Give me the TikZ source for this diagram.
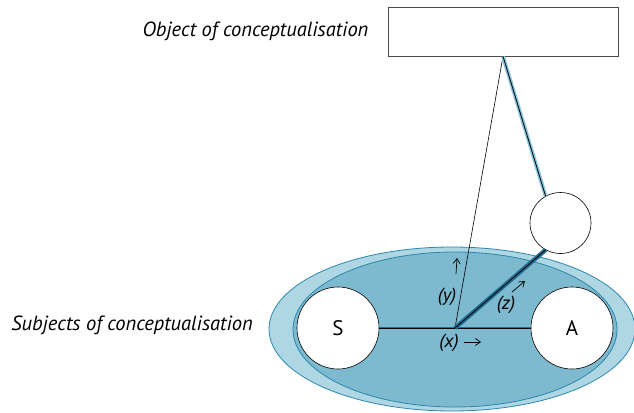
\documentclass[tikz,border=0pt]{standalone}
\usepackage{fontspec}
\setmainfont{PT Sans}
\usetikzlibrary{arrows.meta,positioning,shapes.geometric}
\definecolor{concept-pale}{HTML}{AED6E3}
\definecolor{concept-mid}{HTML}{7DB9CF}
\definecolor{concept-edge}{HTML}{2B89AE}
\definecolor{concept-dark}{HTML}{1F6F95}
\definecolor{concept-light}{HTML}{86C3DC}
\tikzset{
  concept-field/.style={ellipse, draw=concept-edge, line width=0.8pt, inner sep=0pt},
  concept-subject/.style={circle, draw=black, fill=white, line width=0.6pt, minimum size=82pt,
    inner sep=0pt, font=\fontsize{21}{24}\selectfont},
  concept-caption/.style={font=\fontsize{20.5}{24}\selectfont\itshape, inner sep=0pt},
  concept-var/.style={font=\fontsize{19}{22}\selectfont\itshape, inner sep=0pt},
  concept-tick/.style={-{Straight Barb[length=5pt,width=7pt]}, line width=0.7pt},
  concept-link/.style={double=black, double distance=0.8pt, line width=1.3pt}
}
\begin{document}
\begin{tikzpicture}[x=1pt, y=-1pt]
  \useasboundingbox (0,0) rectangle (634,412);

  % Shared field of the subjects
  \node[concept-field, fill=concept-pale, minimum width=366pt, minimum height=164pt] (outer) at (452,329) {};
  \node[concept-field, fill=concept-mid, minimum width=324pt, minimum height=155pt] (inner) at (455,329.5) {};

  % Object box
  \node[draw=black!70, fill=white, line width=0.8pt, minimum width=230pt, minimum height=49pt] (object) at (503,31.5) {};
  \node[concept-caption, left=19pt of object] (objcap) {Object of conceptualisation};

  % Subjects S and A, third circle
  \node[concept-subject] (S) at (338,328) {S};
  \node[concept-subject] (A) at (572,328) {A};
  \node[circle, draw=black, fill=white, line width=0.6pt, minimum size=61pt, inner sep=0pt] (third) at (560.5,223) {};
  \node[concept-caption, anchor=east] (subjcap) at (253,325) {Subjects of conceptualisation};

  % Origin of the three relations
  \coordinate (origin) at (455,328);

  % Relations
  \draw[concept-link, draw=concept-dark, line width=0.7pt] (S) -- (A);
  \draw[line width=0.6pt] (object.south) -- (origin);
  \draw[concept-link, draw=concept-light, line width=1.5pt] (object.south) -- (third.119);
  \draw[concept-link, draw=concept-dark, line width=1.8pt] (origin) -- (third.241);

  % Labels (x), (y), (z)
  \node[concept-var] (xlab) at (449,343) {(x)};
  \coordinate (xtail) at (464,342);
  \coordinate (xhead) at (481,342);
  \draw[concept-tick] (xtail) -- (xhead);

  \node[concept-var] (ylab) at (447,297) {(y)};
  \coordinate (ytail) at (456,274);
  \coordinate (yhead) at (457,258);
  \draw[concept-tick] (ytail) -- (yhead);

  \node[concept-var] (zlab) at (506,305) {(z)};
  \coordinate (ztail) at (512,292);
  \coordinate (zhead) at (525,281);
  \draw[concept-tick] (ztail) -- (zhead);
\end{tikzpicture}
\end{document}
